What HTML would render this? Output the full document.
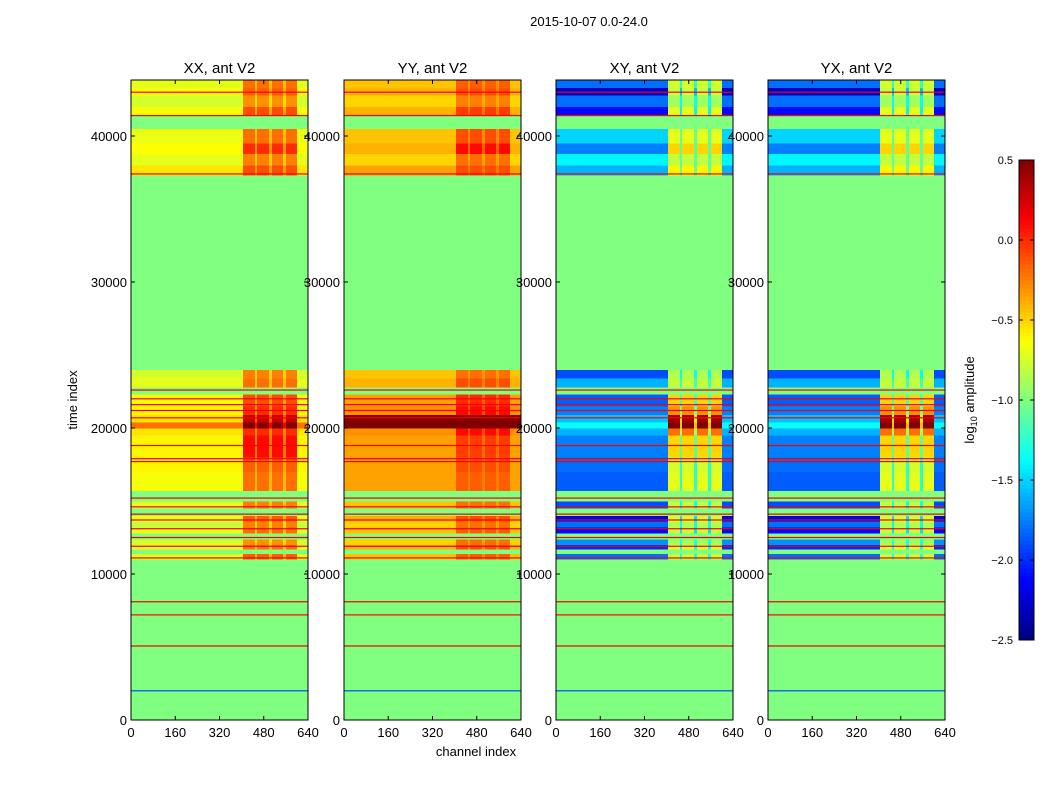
<!DOCTYPE html>
<html><head><meta charset="utf-8"><style>
body{margin:0;background:#fff;font-family:"Liberation Sans",sans-serif;}
svg text{font-family:"Liberation Sans",sans-serif;}
</style></head><body>
<svg id="fig" width="1050" height="800" xmlns="http://www.w3.org/2000/svg">
<rect width="1050" height="800" fill="#fff"/>
<text x="589" y="26" font-size="13" text-anchor="middle">2015-10-07 0.0-24.0</text>
<text transform="translate(77,400) rotate(-90)" font-size="13" text-anchor="middle">time index</text>
<text x="476" y="756" font-size="13" text-anchor="middle">channel index</text>
<g id="panels"></g>
<g id="cbar"></g>
<text transform="translate(974,400) rotate(-90)" font-size="13" text-anchor="middle">log<tspan font-size="9" dy="3">10</tspan><tspan dy="-3"> amplitude</tspan></text>
</svg>
<script>
const panelTitles = ["XX, ant V2","YY, ant V2","XY, ant V2","YX, ant V2"];
const xTicks = [0,160,320,480,640];
const yTicks = [0,10000,20000,30000,40000];
const cbTicks = [0.5,0.0,-0.5,-1.0,-1.5,-2.0,-2.5];
// time segments
const segStart = [0,11000,11400,11700,12000,12400,12800,13200,13600,14000,14500,15000,15700,17000,18000,19500,20000,20400,20900,21500,22300,22800,23400,24000,37300,38000,38800,39500,40500,41400,42000,42800,43300];
const segEnd   = [11000,11400,11700,12000,12400,12800,13200,13600,14000,14500,15000,15700,17000,18000,19500,20000,20400,20900,21500,22300,22800,23400,24000,37300,38000,38800,39500,40500,41400,42000,42800,43300,43800];
// smooth-band and rfi-band values per panel
const xxSmooth = [-1,-0.7,-1,-0.65,-0.75,-1,-0.7,-0.8,-0.65,-1,-0.7,-1,-0.65,-0.6,-0.6,-0.55,-0.2,-0.55,-0.6,-0.62,-1,-0.7,-0.75,-1,-0.55,-0.7,-0.62,-0.68,-1,-0.65,-0.75,-0.62,-0.7];
const xxRfi    = [-1,-0.15,-1,-0.2,-0.3,-1,-0.2,-0.25,-0.15,-1,-0.25,-1,-0.2,-0.15,0.1,0.0,0.5,0.3,0.0,-0.1,-1,-0.2,-0.25,-1,-0.1,-0.25,0.0,-0.2,-1,-0.1,-0.3,-0.15,-0.2];
const yySmooth = [-1,-0.45,-1,-0.4,-0.5,-1,-0.45,-0.5,-0.4,-1,-0.45,-1,-0.35,-0.35,-0.35,-0.3,0.5,0.5,-0.3,-0.35,-1,-0.4,-0.45,-1,-0.35,-0.5,-0.4,-0.45,-1,-0.4,-0.5,-0.4,-0.45];
const yyRfi    = [-1,-0.15,-1,-0.1,-0.2,-1,-0.15,-0.2,-0.1,-1,-0.2,-1,-0.15,-0.1,-0.05,0.1,0.5,0.5,0.1,0.0,-1,-0.1,-0.2,-1,-0.1,-0.2,0.1,-0.1,-1,-0.05,-0.25,-0.1,-0.15];
const xySmooth = [-1,-1.8,-1,-2.0,-1.7,-1,-2.1,-1.8,-2.2,-1,-1.9,-1,-1.85,-1.8,-1.75,-1.6,-1.35,-1.55,-1.75,-1.85,-1,-1.6,-1.9,-1,-1.6,-1.4,-1.75,-1.5,-1,-2.1,-1.8,-2.3,-1.8];
const xyRfi    = [-1,-0.8,-1,-0.7,-0.9,-1,-0.8,-0.85,-0.75,-1,-0.8,-1,-0.7,-0.75,-0.5,-0.2,0.5,0.4,-0.3,-0.5,-1,-0.8,-0.85,-1,-0.6,-0.8,-0.5,-0.7,-1,-0.7,-0.9,-0.8,-0.75];
// thin flag / event lines: time and value
const lineTimes  = [2000,5070,7200,8100,11100,11900,12500,13100,13700,14100,14600,15200,17700,17900,18800,20700,21200,21600,22000,22600,37400,41400,43000];
const lineValues = [-1.9,0.15,0.1,0.15,0.15,0.15,0.15,0.15,0.15,0.15,0.15,0.15,0.15,0.15,0.15,0.15,0.15,0.15,0.15,0.15,0.15,0.15,0.15];
const chanStart = [0,405,448,456,499,510,550,560,600];
const chanEnd   = [405,448,456,499,510,550,560,600,640];
const chanKind  = [0,2,1,2,1,2,1,2,0]; // 0 smooth, 1 gap (mixed), 2 rfi

const smoothSets=[xxSmooth,yySmooth,xySmooth,xySmooth];
const rfiSets=[xxRfi,yyRfi,xyRfi,xyRfi];
const panelLeft=[131,344,556,768], PW=177, PT=80, PB=720, TMAX=43836, VMIN=-2.5, VMAX=0.5;
const NS="http://www.w3.org/2000/svg";
function xs(p,c){return panelLeft[p]+c/640*PW;}
function ys(t){return PB-t/TMAX*(PB-PT);}
function jet(v){let x=(v-VMIN)/(VMAX-VMIN);x=Math.max(0,Math.min(1,x));
 const f=(a)=>Math.max(0,Math.min(1,1.5-Math.abs(4*x-a)));
 const r=f(3),g=f(2),b=f(1);return `rgb(${Math.round(r*255)},${Math.round(g*255)},${Math.round(b*255)})`;}
function el(tag,attrs,parent){const e=document.createElementNS(NS,tag);for(const k in attrs)e.setAttribute(k,attrs[k]);parent.appendChild(e);return e;}
const root=document.getElementById('panels');
for(let p=0;p<4;p++){
 const g=el('g',{},root);
 
 
 for(let s=0;s<segStart.length;s++){
  const sm=smoothSets[p][s], rf=rfiSets[p][s];
  for(let c=0;c<chanStart.length;c++){
   const v=sm===-1?-1:(chanKind[c]===2?rf:chanKind[c]===1?(sm+rf)/2:sm);
   const y0=ys(segEnd[s]),y1=ys(segStart[s]);
   const r=el('rect',{x:xs(p,chanStart[c]),y:y0,width:xs(p,chanEnd[c])-xs(p,chanStart[c])+0.3,height:y1-y0+0.3,fill:jet(v),'shape-rendering':'crispEdges'},g);
   
   
  }
 }
 for(let i=0;i<lineTimes.length;i++){
  const r=el('rect',{x:xs(p,0),y:ys(lineTimes[i])-0.6,width:PW,height:1.2,fill:jet(lineValues[i])},g);
  
  
 }
 const fr=el('rect',{x:panelLeft[p],y:PT,width:PW,height:PB-PT,fill:'none',stroke:'#000','stroke-width':1},g);
 
 
 const tt=el('text',{x:panelLeft[p]+PW/2,y:73,'font-size':15,'text-anchor':'middle'},g);
 tt.textContent=panelTitles[p];
 
 
 xTicks.forEach(t=>{const x=xs(p,t);
  el('line',{x1:x,x2:x,y1:PB,y2:PB-4,stroke:'#000'},g);el('line',{x1:x,x2:x,y1:PT,y2:PT+4,stroke:'#000'},g);
  const l=el('text',{x:x,y:PB+17,'font-size':13,'text-anchor':'middle'},g);l.textContent=t;
  
  });
 yTicks.forEach(t=>{const y=ys(t);
  el('line',{x1:panelLeft[p],x2:panelLeft[p]+4,y1:y,y2:y,stroke:'#000'},g);el('line',{x1:panelLeft[p]+PW,x2:panelLeft[p]+PW-4,y1:y,y2:y,stroke:'#000'},g);
  const l=el('text',{x:panelLeft[p]-4,y:y+5,'font-size':13,'text-anchor':'end'},g);l.textContent=t;
  
  });
}
const cb=document.getElementById('cbar');const CX=1019,CW=15,CT=160,CB=640;
for(let i=0;i<120;i++){const v=VMIN+(i+0.5)/120*(VMAX-VMIN);const h=(CB-CT)/120;
 el('rect',{x:CX,y:CB-(i+1)*h,width:CW,height:h+0.4,fill:jet(v),'shape-rendering':'crispEdges'},cb);}
el('rect',{x:CX,y:CT,width:CW,height:CB-CT,fill:'none',stroke:'#000'},cb);
cbTicks.forEach(t=>{const y=CB-(t-VMIN)/(VMAX-VMIN)*(CB-CT);
 el('line',{x1:CX+CW,x2:CX+CW-4,y1:y,y2:y,stroke:'#000'},cb);el('line',{x1:CX,x2:CX+4,y1:y,y2:y,stroke:'#000'},cb);
 const l=el('text',{x:1013,y:y+4,'font-size':11,'text-anchor':'end'},cb);l.textContent=t.toFixed(1).replace('-','\u2212');
 
 });
</script>
</body></html>
